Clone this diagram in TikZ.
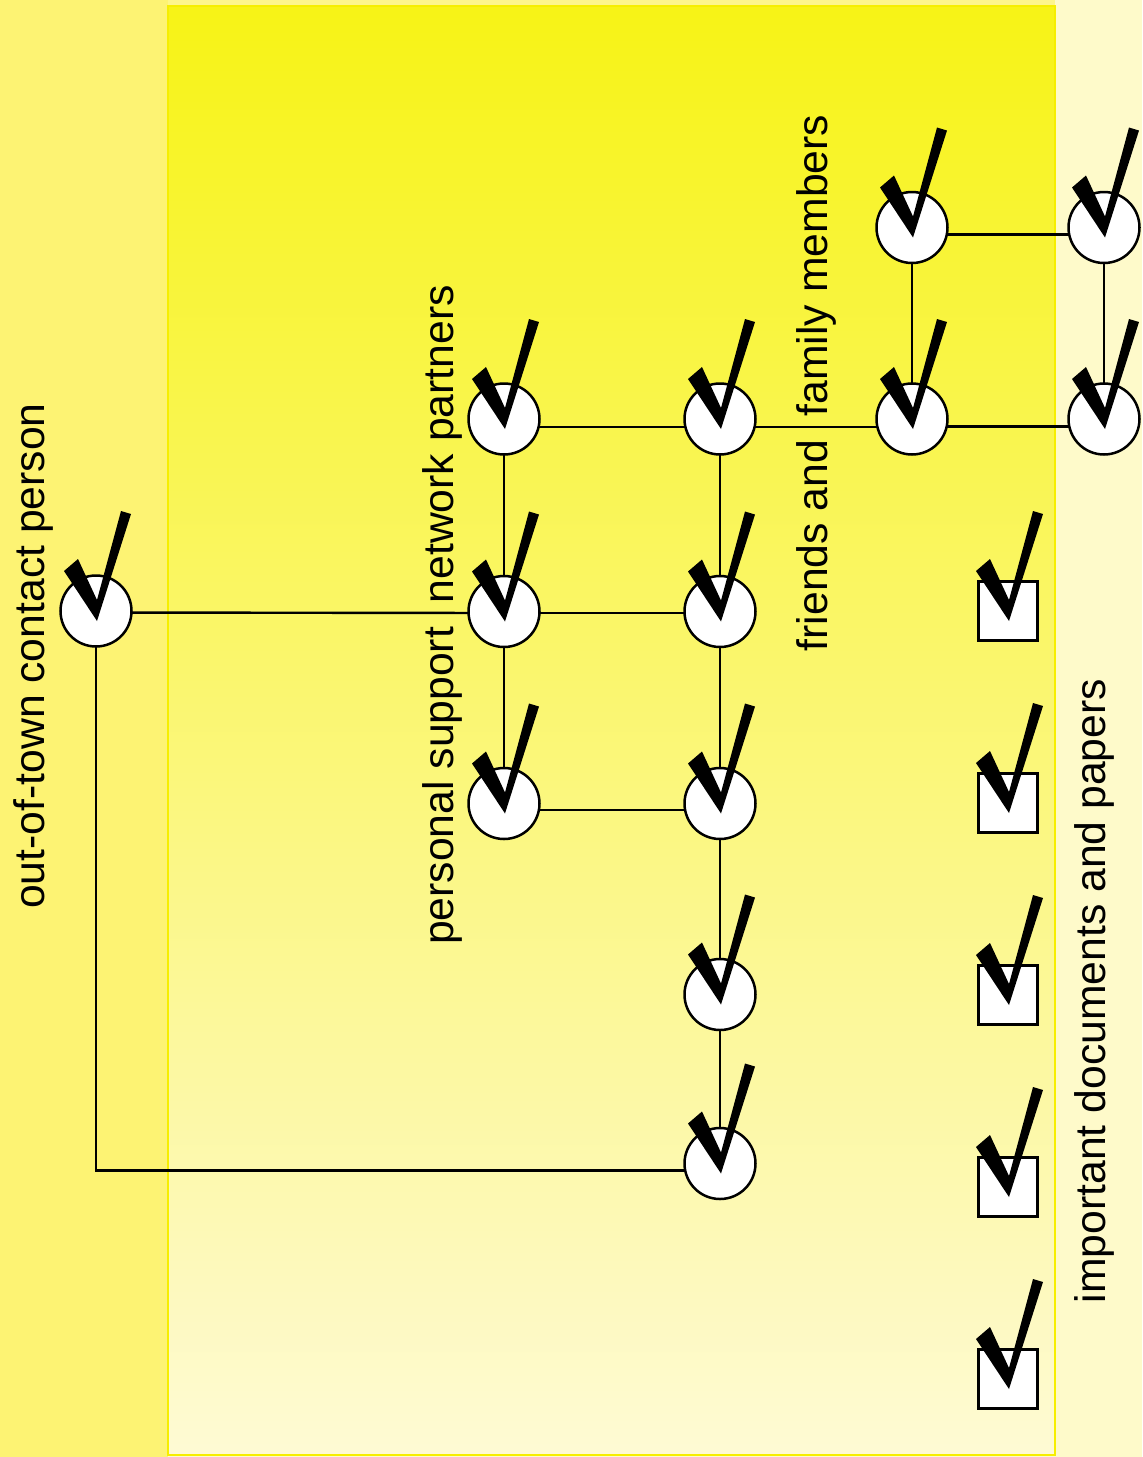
\documentclass[tikz,border=0pt]{standalone}
\usepackage{fontspec}
\setmainfont{Liberation Sans}
\pgfdeclarelayer{bg}
\pgfdeclarelayer{lines}
\pgfsetlayers{bg,lines,main}
\definecolor{pale}{RGB}{254,250,202}
\definecolor{lane}{RGB}{253,243,115}
\definecolor{topband}{RGB}{253,245,140}
\definecolor{gtop}{RGB}{247,243,22}
\definecolor{gbot}{RGB}{254,250,212}
\definecolor{edgey}{RGB}{246,238,0}
\begin{document}
\begin{tikzpicture}[x=0.5pt,y=-0.5pt,
  nd/.style={circle,draw,fill=white,line width=1.25pt,minimum size=35.5pt,inner sep=0pt},
  sq/.style={rectangle,draw,fill=white,line width=1.25pt,minimum size=29.5pt,inner sep=0pt},
  con/.style={line width=1.2pt},
  lbl/.style={rotate=90,anchor=base,inner sep=0pt,font=\fontsize{21.35pt}{25pt}\selectfont},
  chk/.pic={\fill[black] (-32,-40)--(-18,-52)--(1,-11)--(25,-100)--(35,-97)--(1,10)--cycle;}]
\useasboundingbox (0,0) rectangle (1142,1457);
\begin{pgfonlayer}{bg}
  \fill[pale] (0,0) rectangle (1142,1457);
  \fill[lane] (0,0) rectangle (168,1457);
  \fill[topband] (168,0) rectangle (1055,6);
  \shade[top color=gtop,bottom color=gbot] (168,6) rectangle (1055,1455);
  \draw[edgey,line width=1pt] (168,6) rectangle (1055,1455);
\end{pgfonlayer}

% nodes
\node[nd] (A)  at (96,611) {};
\node[nd] (B1) at (504,419) {};
\node[nd] (B2) at (504,611.5) {};
\node[nd] (B3) at (504,803.5) {};
\node[nd] (C1) at (720,419) {};
\node[nd] (C2) at (720,611.5) {};
\node[nd] (C3) at (720,803.5) {};
\node[nd] (C4) at (720,994.5) {};
\node[nd] (C5) at (720,1163.5) {};
\node[nd] (D1) at (912,227.5) {};
\node[nd] (D2) at (912,419) {};
\node[nd] (E1) at (1104,227.5) {};
\node[nd] (E2) at (1104,419) {};
\node[sq] (S1) at (1008,611) {};
\node[sq] (S2) at (1008,803) {};
\node[sq] (S3) at (1008,995) {};
\node[sq] (S4) at (1008,1187) {};
\node[sq] (S5) at (1008,1379) {};

% check marks
\foreach \n in {A,B1,B2,B3,C1,C2,C3,C4,C5,D1,D2,E1,E2,S1,S2,S3,S4,S5}
  \pic at (\n.center) {chk};

% connectors
\begin{pgfonlayer}{lines}
  \draw[con] ([yshift=-0.75pt]A.center) -- ([yshift=-0.75pt]B2.center);
  \draw[con] ([yshift=-0.75pt]B2.center) -- ([yshift=-0.75pt]C2.center);
  \draw[con] ([yshift=-4pt]B1.center) -- ([yshift=-4pt]C1.center);
  \draw[con] ([yshift=-4pt]C1.center) -- ([yshift=-4pt]D2.center);
  \draw[con] ([yshift=-3.75pt]D2.center) -- ([yshift=-3.75pt]E2.center);
  \draw[con] ([yshift=-3.5pt]D1.center) -- ([yshift=-3.5pt]E1.center);
  \draw[con] ([yshift=-3.25pt]B3.center) -- ([yshift=-3.25pt]C3.center);
  \draw[con] (A.center) |- ([yshift=-3.5pt]C5.center);
  \draw[con] (B1.center) -- (B2.center);
  \draw[con] (B2.center) -- (B3.center);
  \draw[con] (C1.center) -- (C2.center);
  \draw[con] (C2.center) -- (C3.center);
  \draw[con] (C3.center) -- (C4.center);
  \draw[con] (C4.center) -- (C5.center);
  \draw[con] (D1.center) -- (D2.center);
  \draw[con] (E1.center) -- (E2.center);
\end{pgfonlayer}

% labels
\node[lbl] (LA) at (44,656) {out-of-town contact person};
\node[lbl] (LB) at (453,615) {personal support~~network partners};
\node[lbl] (LD) at (827,383) {friends and~~family members};
\node[lbl] (LS) at (1105,991) {important documents and papers};
\end{tikzpicture}
\end{document}
